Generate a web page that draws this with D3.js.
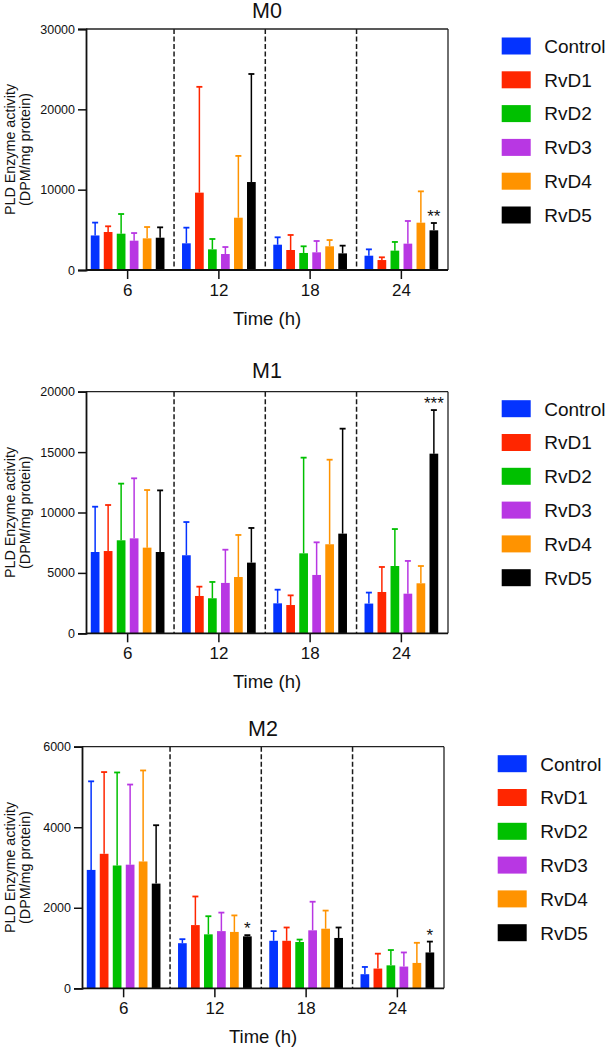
<!DOCTYPE html>
<html><head><meta charset="utf-8">
<script src="https://cdn.jsdelivr.net/npm/d3@7"></script>
<style>
html,body{margin:0;padding:0;background:#fff;}
svg{display:block;font-family:"Liberation Sans",Arial,sans-serif;}
</style></head>
<body>
<svg id="chart" width="605" height="1050"></svg>
<script>
const times = ["6", "12", "18", "24"];
const groups = ["Control", "RvD1", "RvD2", "RvD3", "RvD4", "RvD5"];
const colors = ["#0433FF", "#FF2600", "#00C000", "#B837E3", "#FF9300", "#000000"];

// means per time point (rows: 6,12,18,24 h; cols: groups)
const m0Mean = [[4300, 4730, 4520, 3650, 3940, 4020],
                [3320, 9630, 2570, 1990, 6510, 10950],
                [3150, 2490, 2120, 2200, 2950, 2070],
                [1780, 1240, 2410, 3280, 5890, 4940]];
const m0SD   = [[1600, 710, 2450, 950, 1410, 1290],
                [1950, 13170, 1290, 870, 7690, 13450],
                [920, 1870, 830, 1410, 780, 960],
                [790, 340, 1080, 2820, 3900, 910]];
const m1Mean = [[6730, 6810, 7700, 7860, 7090, 6730],
                [6460, 3090, 2900, 4170, 4660, 5850],
                [2480, 2340, 6620, 4830, 7370, 8250],
                [2460, 3420, 5570, 3280, 4140, 14870]];
const m1SD   = [[3750, 3810, 4690, 4970, 4770, 5100],
                [2750, 770, 1350, 2750, 3480, 2870],
                [1130, 800, 7920, 2700, 7000, 8690],
                [910, 2070, 3060, 2710, 1430, 3610]];
const m2Mean = [[2940, 3340, 3050, 3070, 3150, 2600],
                [1120, 1570, 1340, 1420, 1400, 1290],
                [1180, 1180, 1150, 1440, 1480, 1250],
                [350, 490, 570, 540, 630, 890]];
const m2SD   = [[2200, 2030, 2310, 1990, 2260, 1450],
                [100, 710, 450, 460, 410, 30],
                [240, 330, 60, 710, 450, 260],
                [180, 370, 380, 350, 500, 270]];

const m0Ticks = [0, 10000, 20000, 30000];
const m1Ticks = [0, 5000, 10000, 15000, 20000];
const m2Ticks = [0, 2000, 4000, 6000];

// significance marks: [timeIndex, groupIndex, label]
const m0Sig = [[3, 5, "**"]];
const m1Sig = [[3, 5, "***"]];
const m2Sig = [[1, 5, "*"], [3, 5, "*"]];

const panels = [
  {title: "M0", mean: m0Mean, sd: m0SD, ticks: m0Ticks, sig: m0Sig, left: 86, right: 448, top: 29, bottom: 270},
  {title: "M1", mean: m1Mean, sd: m1SD, ticks: m1Ticks, sig: m1Sig, left: 86, right: 448, top: 391.7, bottom: 633.3, titleGap: 14},
  {title: "M2", mean: m2Mean, sd: m2SD, ticks: m2Ticks, sig: m2Sig, left: 82, right: 444, top: 746.7, bottom: 988.3}
];

const svg = d3.select("#chart");

panels.forEach(p => {
  const g = svg.append("g");
  const ymax = p.ticks[p.ticks.length - 1];
  const y = d3.scaleLinear().domain([0, ymax]).range([p.bottom, p.top]);
  const x0 = d3.scaleBand().domain(times).range([p.left - 4, p.right - 1]);
  const span = 73.7;
  const x1 = d3.scaleBand().domain(groups)
    .range([(x0.bandwidth() - span) / 2, (x0.bandwidth() + span) / 2])
    .paddingInner(0.33).paddingOuter(0);

  // dashed dividers
  times.slice(1).forEach(t => {
    const xx = x0(t) + 0.8;
    g.append("line").attr("x1", xx).attr("x2", xx).attr("y1", p.top).attr("y2", p.bottom)
      .attr("stroke", "#1a1a1a").attr("stroke-width", 1.5).attr("stroke-dasharray", "5,2.5");
  });

  // frame top & right
  g.append("line").attr("x1", p.left).attr("x2", p.right).attr("y1", p.top).attr("y2", p.top)
    .attr("stroke", "#222").attr("stroke-width", 1.3);
  g.append("line").attr("x1", p.right).attr("x2", p.right).attr("y1", p.top).attr("y2", p.bottom)
    .attr("stroke", "#222").attr("stroke-width", 1.3);

  // bars and error bars
  times.forEach((t, ti) => {
    groups.forEach((gr, gi) => {
      const m = p.mean[ti][gi], s = p.sd[ti][gi];
      const bx = x0(t) + x1(gr), bw = x1.bandwidth();
      const cx = bx + bw / 2;
      g.append("line").attr("x1", cx).attr("x2", cx).attr("y1", y(m)).attr("y2", y(m + s))
        .attr("stroke", colors[gi]).attr("stroke-width", 1.5);
      g.append("line").attr("x1", cx - 3).attr("x2", cx + 3).attr("y1", y(m + s)).attr("y2", y(m + s))
        .attr("stroke", colors[gi]).attr("stroke-width", 1.8);
      g.append("rect").attr("x", bx).attr("y", y(m)).attr("width", bw).attr("height", y(0) - y(m))
        .attr("fill", colors[gi]);
    });
  });

  // significance
  p.sig.forEach(([ti, gi, lab]) => {
    const t = times[ti], gr = groups[gi];
    const cx = x0(t) + x1(gr) + x1.bandwidth() / 2;
    const yy = y(p.mean[ti][gi] + p.sd[ti][gi]) - 1;
    g.append("text").attr("x", cx).attr("y", yy).attr("text-anchor", "middle")
      .attr("font-size", 17).attr("fill", "#111").text(lab);
  });

  // y axis
  const yAxis = d3.axisLeft(y).tickValues(p.ticks).tickFormat(d3.format("d")).tickSize(8).tickPadding(3);
  const ya = g.append("g").attr("transform", `translate(${p.left},0)`).call(yAxis);
  ya.select(".domain").attr("stroke", "#111").attr("stroke-width", 1.8);
  ya.selectAll(".tick line").attr("stroke", "#111").attr("stroke-width", 1.5);
  ya.selectAll(".tick text").attr("font-size", 12.5).attr("fill", "#111")
    .attr("font-family", "Liberation Sans, Arial, sans-serif");

  // x axis
  const xAxis = d3.axisBottom(x0).tickSize(9).tickPadding(5).tickSizeOuter(0);
  const xa = g.append("g").attr("transform", `translate(0,${p.bottom})`).call(xAxis);
  xa.select(".domain").attr("stroke", "#111").attr("stroke-width", 1.8)
    .attr("d", `M${p.left},0H${p.right}`);
  xa.selectAll(".tick line").attr("stroke", "#111").attr("stroke-width", 1.5);
  xa.selectAll(".tick text").attr("font-size", 17).attr("fill", "#111")
    .attr("font-family", "Liberation Sans, Arial, sans-serif");

  // title
  const cxp = (p.left + p.right) / 2;
  g.append("text").attr("x", cxp).attr("y", p.top - (p.titleGap || 11)).attr("text-anchor", "middle")
    .attr("font-size", 21.5).attr("fill", "#111").text(p.title);

  // x label
  g.append("text").attr("x", cxp).attr("y", p.bottom + 55).attr("text-anchor", "middle")
    .attr("font-size", 18.5).attr("fill", "#111").text("Time (h)");

  // y label
  const my = (p.top + p.bottom) / 2;
  const yl = g.append("text").attr("transform", `translate(15,${my}) rotate(-90)`)
    .attr("text-anchor", "middle").attr("font-size", 14.3).attr("fill", "#111");
  yl.append("tspan").attr("x", 0).attr("y", 0).text("PLD Enzyme activity");
  yl.append("tspan").attr("x", 0).attr("y", 14.5).text("(DPM/mg protein)");

  // legend
  const lx = p.left + 415.7;
  const ly0 = p.top + 17;
  groups.forEach((gr, gi) => {
    const cy = ly0 + gi * 33.8;
    g.append("rect").attr("x", lx).attr("y", cy - 8.5).attr("width", 29).attr("height", 17)
      .attr("fill", colors[gi]);
    g.append("text").attr("x", lx + 42.5).attr("y", cy + 6.8).attr("font-size", 19)
      .attr("fill", "#111").text(gr);
  });
});
</script>
</body></html>
